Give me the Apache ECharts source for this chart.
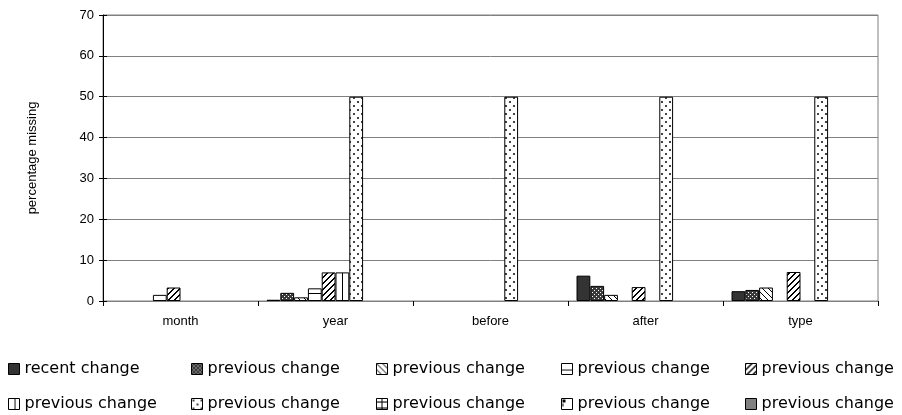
<!DOCTYPE html>
<html>
<head>
<meta charset="utf-8">
<script src="https://cdn.jsdelivr.net/npm/echarts@6/dist/echarts.min.js"></script>
<style>
  html, body { margin: 0; padding: 0; background: #ffffff; }
  #chart { width: 902px; height: 415px; }
</style>
</head>
<body>
<div id="chart"></div>
<script>
// Categories along the x axis
const categories = ['month', 'year', 'before', 'after', 'type'];

// Series identifiers (unique) and the text shown in the legend
const seriesKeys = [
  'recent change', 'previous change 1', 'previous change 2', 'previous change 3',
  'previous change 4', 'previous change 5', 'previous change 6', 'previous change 7',
  'previous change 8', 'previous change 9'
];
const seriesLabels = [
  'recent change', 'previous change', 'previous change', 'previous change',
  'previous change', 'previous change', 'previous change', 'previous change',
  'previous change', 'previous change'
];

// Percentage missing per category (month, year, before, after, type)
const recentChange    = [0,   0.3, 0,  6.2, 2.4];
const previousChange1 = [0,   2.0, 0,  3.7, 2.7];
const previousChange2 = [0,   0.9, 0,  1.5, 3.3];
const previousChange3 = [1.5, 3.1, 0,  0,   0];
const previousChange4 = [3.3, 7.0, 0,  3.4, 7.1];
const previousChange5 = [0,   7.0, 0,  0,   0];
const previousChange6 = [0,   50,  50, 50,  50];
const previousChange7 = [0,   0,   0,  0,   0];
const previousChange8 = [0,   0,   0,  0,   0];
const previousChange9 = [0,   0,   0,  0,   0];

const seriesValues = [
  recentChange, previousChange1, previousChange2, previousChange3, previousChange4,
  previousChange5, previousChange6, previousChange7, previousChange8, previousChange9
];

// Value axis ticks
const yMin = 0, yMax = 70, yStep = 10;

// ---- fill patterns ----
function pattern(w, h, bg, draw) {
  const c = document.createElement('canvas');
  c.width = w; c.height = h;
  const ctx = c.getContext('2d');
  ctx.fillStyle = bg;
  ctx.fillRect(0, 0, w, h);
  ctx.fillStyle = '#000000';
  draw(ctx, w, h);
  return { image: c, repeat: 'repeat' };
}

const fills = [
  '#333333',
  // dense dotted (dark with light specks)
  pattern(4, 4, '#3a3a3a', (ctx) => {
    ctx.fillStyle = '#ffffff';
    ctx.fillRect(0, 0, 1, 1);
    ctx.fillRect(2, 2, 1, 1);
  }),
  // thin "\" hatch
  pattern(6, 6, '#ffffff', (ctx, w) => {
    for (let i = 0; i < w; i++) ctx.fillRect(i, i, 1, 1);
  }),
  // horizontal lines
  pattern(4, 7, '#ffffff', (ctx, w) => { ctx.fillRect(0, 6, w, 1); }),
  // bold "/" hatch
  pattern(6, 6, '#ffffff', (ctx, w) => {
    for (let i = 0; i < w; i++) {
      ctx.fillRect((w - 1 - i), i, 1, 1);
      ctx.fillRect((w - i) % w, i, 1, 1);
    }
  }),
  // vertical lines
  pattern(7, 4, '#ffffff', (ctx, w, h) => { ctx.fillRect(6, 0, 1, h); }),
  // sparse dots
  pattern(8, 8, '#ffffff', (ctx) => {
    ctx.fillStyle = '#444444';
    ctx.fillRect(1, 1, 2, 2);
    ctx.fillRect(5, 5, 2, 2);
  }),
  // grid
  pattern(6, 6, '#ffffff', (ctx, w, h) => {
    ctx.fillRect(0, 3, w, 1);
    ctx.fillRect(5, 0, 1, h);
  }),
  // corner mark
  pattern(12, 12, '#ffffff', (ctx) => {
    ctx.fillRect(1, 1, 3, 3);
    ctx.fillRect(1, 5, 1, 3);
  }),
  '#808080'
];

// A zero share leaves its slot empty instead of drawing a flat outline
const series = seriesKeys.map((key, i) => ({
  name: key,
  type: 'bar',
  data: seriesValues[i].map(v => (v === 0 ? '-' : v)),
  barGap: '0%',
  barCategoryGap: '11%',
  itemStyle: { color: fills[i], borderColor: '#000000', borderWidth: 1 },
  emphasis: { disabled: true }
}));

// Legend: two rows of five entries
const legendLefts = [8, 191, 376, 561, 745];
const legendTops = [361, 396];
const legends = seriesKeys.map((key, i) => ({
  data: [key],
  left: legendLefts[i % 5],
  top: legendTops[Math.floor(i / 5)],
  padding: 0,
  itemWidth: 11,
  itemHeight: 11,
  selectedMode: false,
  icon: 'rect',
  itemStyle: { borderColor: '#000000', borderWidth: 1 },
  formatter: () => seriesLabels[i],
  textStyle: { fontFamily: 'DejaVu Sans', fontSize: 16, color: '#000000' }
}));

const axisFont = { fontFamily: 'Liberation Sans', fontSize: 13, color: '#000000' };

const chart = echarts.init(document.getElementById('chart'), null, { renderer: 'canvas' });
chart.setOption({
  animation: false,
  backgroundColor: '#ffffff',
  grid: {
    left: 103, right: 24, top: 15, bottom: 114,
    show: true, borderColor: '#808080', borderWidth: 1, backgroundColor: 'transparent'
  },
  legend: legends,
  xAxis: {
    type: 'category',
    data: categories,
    axisLine: { lineStyle: { color: '#808080', width: 1 } },
    axisTick: { show: true, length: 5, lineStyle: { color: '#000000' } },
    axisLabel: Object.assign({ margin: 14 }, axisFont)
  },
  yAxis: [
    {
      type: 'value',
      min: yMin, max: yMax, interval: yStep,
      name: 'percentage missing',
      nameLocation: 'middle',
      nameGap: 64,
      nameTextStyle: axisFont,
      axisLine: { show: true, lineStyle: { color: '#000000', width: 1 } },
      axisTick: { show: true, length: 4, lineStyle: { color: '#000000' } },
      axisLabel: Object.assign({ margin: 9 }, axisFont),
      splitLine: { show: true, lineStyle: { color: '#808080', width: 1 } }
    },
    {
      // inner half of the cross-style tick marks
      type: 'value',
      position: 'left',
      min: yMin, max: yMax, interval: yStep,
      axisLine: { show: false },
      axisTick: { show: true, inside: true, length: 4, lineStyle: { color: '#000000' } },
      axisLabel: { show: false },
      splitLine: { show: false }
    }
  ],
  series: series
});
</script>
</body>
</html>
